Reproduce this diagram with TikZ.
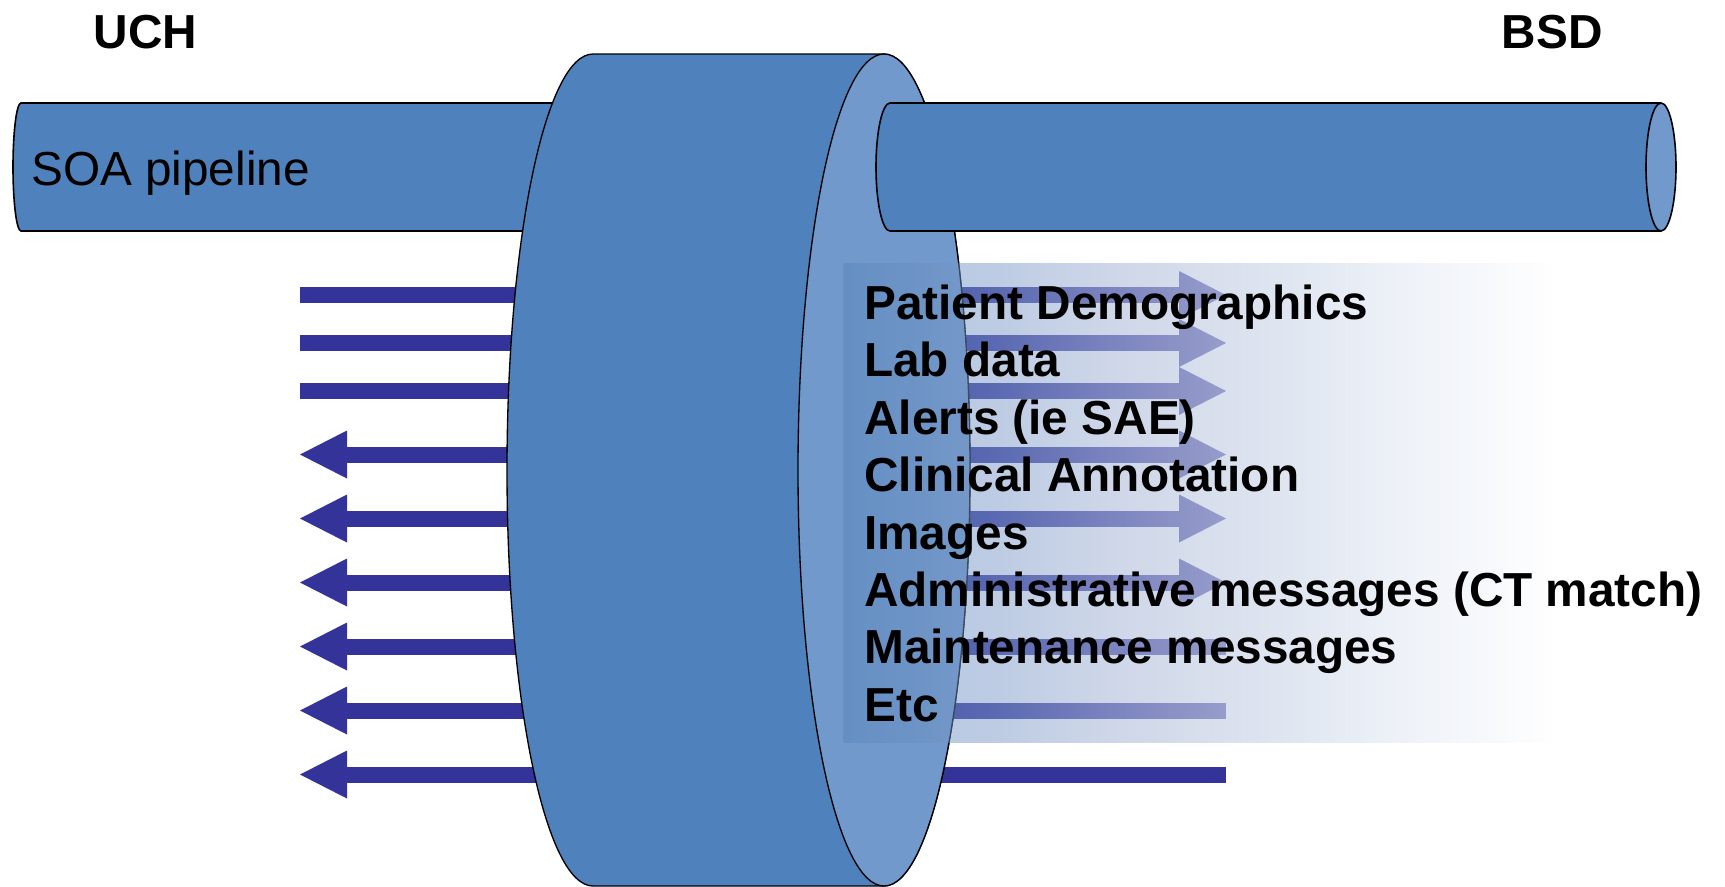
\documentclass[tikz,border=0pt]{standalone}
\usepackage{fontspec}
\setmainfont{Liberation Sans}
\usetikzlibrary{arrows.meta,fadings}
\definecolor{pipeblue}{RGB}{79,129,189}
\definecolor{faceblue}{RGB}{113,153,203}
\definecolor{arrowblue}{RGB}{51,51,153}
\definecolor{ovlA}{RGB}{87,131,186}
\definecolor{ovlB}{RGB}{124,154,200}
\definecolor{ovlC}{RGB}{170,185,216}
\definecolor{ovlD}{RGB}{194,205,226}
\definecolor{ovlE}{RGB}{233,238,246}
\pgfdeclarehorizontalshading{ovlshade}{100bp}{color(0bp)=(ovlA); color(25bp)=(ovlA); color(33bp)=(ovlB); color(39.5bp)=(ovlC); color(45.2bp)=(ovlD); color(56.5bp)=(ovlE); color(65.5bp)=(white); color(100bp)=(white)}
\tikzfading[name=ovlfade, left color=transparent!58, right color=transparent!0]
\begin{document}
\begin{tikzpicture}[x=0.75pt, y=-0.75pt,
  pipe/.style={line width=1.2pt, draw=black},
  disk/.style={line width=1pt, draw=black},
  flow/.style={draw=arrowblue, line width=12pt},
  >={Triangle[length=35.25pt, width=36pt, line width=0pt]},
  title/.style={font=\fontsize{35.8pt}{43pt}\selectfont\bfseries, inner sep=0pt, anchor=base west},
  item/.style={font=\fontsize{35.8pt}{43pt}\selectfont\bfseries, inner sep=0pt, anchor=base west},
  plain/.style={font=\fontsize{35.8pt}{43pt}\selectfont, inner sep=0pt, anchor=base west}]
\useasboundingbox (0,0) rectangle (1725,886);
% left pipe
\fill[pipeblue] (21,103) -- (720,103) -- (720,231) -- (21,231) arc[start angle=90,end angle=270,x radius=8,y radius=64] -- cycle;
\draw[pipe] (720,103) -- (21,103) arc[start angle=270,end angle=90,x radius=8,y radius=64] -- (720,231);
% flow arrows
\foreach \n/\y in {1/295,2/343,3/391,4/454.5,5/518.5,6/582.5,7/646.5,8/710.5,9/774.5}{
  \coordinate (w\n) at (300,\y);
  \coordinate (e\n) at (1226,\y);
}
\draw[flow,->] (w1) -- (e1);
\draw[flow,->] (w2) -- (e2);
\draw[flow,->] (w3) -- (e3);
\draw[flow,<->] (w4) -- (e4);
\draw[flow,<->] (w5) -- (e5);
\draw[flow,<->] (w6) -- (e6);
\draw[flow,<-] (w7) -- (e7);
\draw[flow,<-] (w8) -- (e8);
\draw[flow,<-] (w9) -- (e9);
% disk
\draw[disk, fill=pipeblue] (593,54) -- (884,54) arc[start angle=-90,end angle=90,x radius=86,y radius=416] -- (593,886) arc[start angle=90,end angle=270,x radius=86,y radius=416] -- cycle;
\draw[disk, fill=faceblue] (884,470) ellipse [x radius=86, y radius=416];
% right pipe
\fill[pipeblue] (890,103) -- (1661,103) -- (1661,231) -- (890,231) arc[start angle=90,end angle=270,x radius=14,y radius=64] -- cycle;
\draw[pipe] (1661,103) -- (890,103) arc[start angle=270,end angle=90,x radius=14,y radius=64] -- (1661,231);
\draw[pipe, fill=faceblue] (1661,167) ellipse [x radius=15, y radius=64];
% overlay
\shade[shading=ovlshade, path fading=ovlfade] (844,263) rectangle (1725,742);
% texts
\node[title] (uch) at (93.5,48) {UCH};
\node[title] (bsd) at (1501.5,48) {BSD};
\node[plain] (soa) at (31,185) {SOA pipeline};
\node[item] (t1) at (864,319.5) {Patient Demographics};
\node[item] (t2) at (864,376.9) {Lab data};
\node[item] (t3) at (864,434.3) {Alerts (ie SAE)};
\node[item] (t4) at (864,491.7) {Clinical Annotation};
\node[item] (t5) at (864,549.1) {Images};
\node[item] (t6) at (864,606.5) {Administrative messages (CT match)};
\node[item] (t7) at (864,663.9) {Maintenance messages};
\node[item] (t8) at (864,721.3) {Etc};
\end{tikzpicture}
\end{document}
